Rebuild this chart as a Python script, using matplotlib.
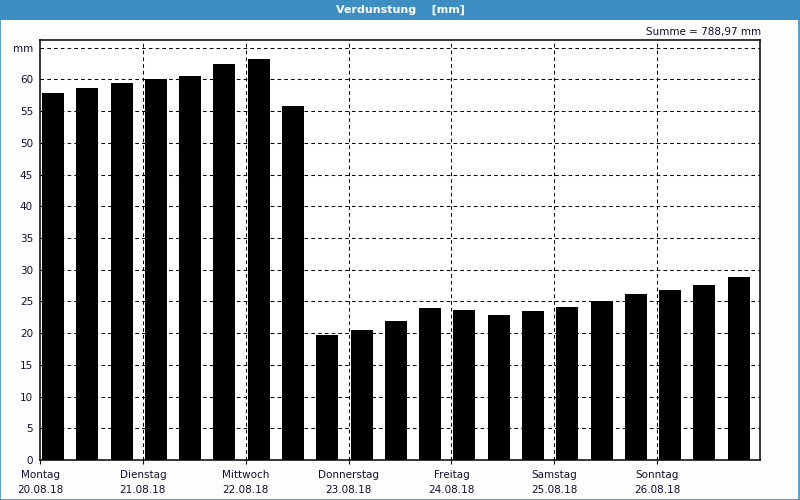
import matplotlib
matplotlib.use("Agg")
import matplotlib.pyplot as plt
from matplotlib.patches import Rectangle

values = [57.8, 58.6, 59.4, 60.0, 60.6, 62.4, 63.2, 55.8,
          19.75, 20.5, 21.9, 24.0, 23.6, 22.85, 23.5, 24.1,
          25.1, 26.2, 26.8, 27.6, 28.8]
days = ["Montag", "Dienstag", "Mittwoch", "Donnerstag", "Freitag", "Samstag", "Sonntag"]
dates = ["20.08.18", "21.08.18", "22.08.18", "23.08.18", "24.08.18", "25.08.18", "26.08.18"]
yticks = list(range(0, 61, 5))
title = "Verdunstung    [mm]"
summe = "Summe = 788,97 mm"

plt.rcParams['font.family'] = ['DejaVu Sans']
fig = plt.figure(figsize=(8, 5), dpi=100, facecolor='#fcfdfc')

# title bar
fig.patches.append(Rectangle((0, 0.96), 1, 0.04, transform=fig.transFigure,
                             facecolor='#3d8fc3', edgecolor='none', zorder=0))
fig.patches.append(Rectangle((0.0005, 0.001), 0.9985, 0.998, transform=fig.transFigure,
                             facecolor='none', edgecolor='#3d8fc3', linewidth=1.2, zorder=0))
fig.text(0.5, 0.98, title, color='white', fontsize=8, fontweight='bold',
         ha='center', va='center')
fig.text(0.952, 0.936, summe, color='#101030', fontsize=7.5, ha='right', va='center')

ax = fig.add_axes([0.05, 0.08, 0.9, 0.84])
ax.set_facecolor('white')
n = len(values)
xs = list(range(n))
ax.bar([x + 0.06 for x in xs], values, width=0.64, align='edge', color='black', zorder=3)

ax.set_xlim(0, n)
ax.set_ylim(0, 66.2)

gridkw = dict(color='black', linestyle=(0, (3.5, 3)), linewidth=0.75, zorder=1)
for y in yticks[1:] + [65]:
    ax.axhline(y, **gridkw)
for d in range(1, len(days)):
    ax.axvline(d * 3, **gridkw)

ax.set_yticks(yticks + [65])
ax.set_yticklabels([str(t) for t in yticks] + ["mm"], fontsize=7.5, color='#101030')
ax.set_xticks([d * 3 for d in range(len(days))])
ax.set_xticklabels([f"{a}\n{b}" for a, b in zip(days, dates)], fontsize=7.5,
                   color='#101030', linespacing=1.6)
ax.tick_params(axis='y', length=0, pad=5)
ax.tick_params(axis='x', length=3, pad=4, direction='out', width=0.8)
for s in ax.spines.values():
    s.set_linewidth(1.1)
    s.set_color('black')

fig.savefig("out.png", dpi=100, facecolor=fig.get_facecolor())
